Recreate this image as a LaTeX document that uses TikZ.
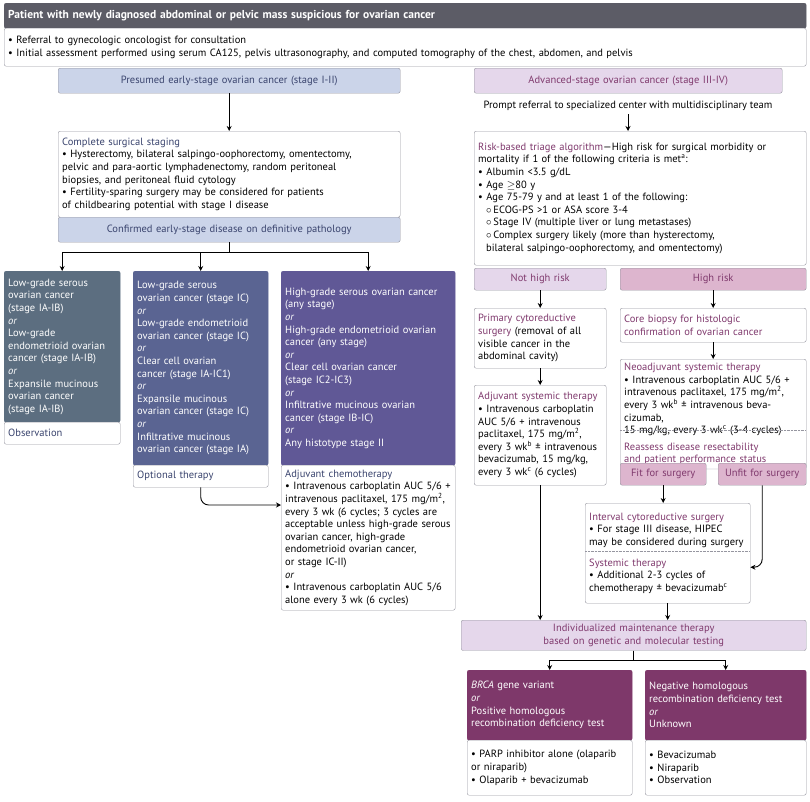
\documentclass[tikz,border=0pt]{standalone}
\usepackage{fontspec}
\setmainfont{PT Sans}
\usetikzlibrary{arrows.meta, positioning, calc}
\definecolor{titleGray}{RGB}{92,92,102}
\definecolor{lineGray}{RGB}{150,150,160}
\definecolor{hdrBlue}{RGB}{203,212,233}
\definecolor{txtBlue}{RGB}{58,68,110}
\definecolor{hdrPurple}{RGB}{229,215,235}
\definecolor{txtPurple}{RGB}{128,58,110}
\definecolor{slateBox}{RGB}{92,110,128}
\definecolor{navyBox}{RGB}{90,100,146}
\definecolor{violetBox}{RGB}{96,88,150}
\definecolor{magentaBox}{RGB}{126,56,106}
\definecolor{pinkTab}{RGB}{221,181,206}
\newcommand{\bodyfont}{\fontsize{10.5}{12.6}\selectfont}
\newcommand{\bul}{\textbullet\ }
\newcommand{\sub}{\hspace*{8pt}$\circ$\,}
\newcommand{\orr}{\textit{or}}

\begin{document}
\begin{tikzpicture}[
    x=1pt, y=-1pt,
    box/.style={draw=lineGray, fill=white, rounded corners=2pt, anchor=north west, align=left, inner sep=4pt, font=\bodyfont},
    dark/.style={box, text=white},
    tab/.style={box, align=center},
    arrow/.style={-{Stealth[length=5pt, width=5pt]}, line width=0.9pt}
]
    \useasboundingbox (0,0) rectangle (810,801);

    % Top
    \node[box, fill=titleGray, draw=titleGray, text=white, font=\fontsize{11.5}{13}\selectfont\bfseries, text width=794pt, minimum height=25pt] (title) at (4,3) {Patient with newly diagnosed abdominal or pelvic mass suspicious for ovarian cancer};
    \node[box, text width=794pt, minimum height=38pt] (intro) at (4,28) {\bul Referral to gynecologic oncologist for consultation\\
      \bul Initial assessment performed using serum CA125, pelvis ultrasonography, and computed tomography of the chest, abdomen, and pelvis};

    % Early stage branch
    \node[tab, fill=hdrBlue, text=txtBlue, text width=334pt, minimum height=25pt] (lhdr) at (58,68) {Presumed early-stage ovarian cancer (stage I-II)};
    \node[box, text width=334pt, minimum height=86pt] (staging) at (58,131) {\textcolor{txtBlue}{Complete surgical staging}\\
      \bul Hysterectomy, bilateral salpingo-oophorectomy, omentectomy,\\
      pelvic and para-aortic lymphadenectomy, random peritoneal\\
      biopsies, and peritoneal fluid cytology\\
      \bul Fertility-sparing surgery may be considered for patients\\
      of childbearing potential with stage I disease};
    \node[tab, fill=hdrBlue, text=txtBlue, text width=334pt, minimum height=25pt] (confirmed) at (58,217) {Confirmed early-stage disease on definitive pathology};

    \node[dark, fill=slateBox, draw=slateBox, text width=108pt, minimum height=151pt] (lowgrade) at (4,271) {Low-grade serous\\ovarian cancer\\(stage IA-IB)\\\orr\\Low-grade\\endometrioid ovarian\\cancer (stage IA-IB)\\\orr\\Expansile mucinous\\ovarian cancer\\(stage IA-IB)};
    \node[box, text=txtBlue, text width=108pt, minimum height=22pt] (observe) at (4,422) {Observation};

    \node[dark, fill=navyBox, draw=navyBox, text width=127pt, minimum height=194pt] (stageic) at (133,271) {Low-grade serous\\ovarian cancer (stage IC)\\\orr\\Low-grade endometrioid\\ovarian cancer (stage IC)\\\orr\\Clear cell ovarian\\cancer (stage IA-IC1)\\\orr\\Expansile mucinous\\ovarian cancer (stage IC)\\\orr\\Infiltrative mucinous\\ovarian cancer (stage IA)};
    \node[box, text=txtBlue, text width=127pt, minimum height=22pt] (optional) at (133,465) {Optional therapy};

    \node[dark, fill=violetBox, draw=violetBox, text width=166pt, minimum height=194pt] (highgrade) at (281,271) {High-grade serous ovarian cancer\\(any stage)\\\orr\\High-grade endometrioid ovarian\\cancer (any stage)\\\orr\\Clear cell ovarian cancer\\(stage IC2-IC3)\\\orr\\Infiltrative mucinous ovarian\\cancer (stage IB-IC)\\\orr\\Any histotype stage II};
    \node[box, text width=166pt, minimum height=145pt] (adjchemo) at (281,465) {\textcolor{txtBlue}{Adjuvant chemotherapy}\\
      \bul Intravenous carboplatin AUC 5/6 +\\intravenous paclitaxel, 175 mg/m\textsuperscript{2},\\every 3 wk (6 cycles; 3 cycles are\\acceptable unless high-grade serous\\ovarian cancer, high-grade\\endometrioid ovarian cancer,\\or stage IC-II)\\\orr\\
      \bul Intravenous carboplatin AUC 5/6\\alone every 3 wk (6 cycles)};

    % Advanced stage branch
    \node[tab, fill=hdrPurple, text=txtPurple, text width=300pt, minimum height=25pt] (rhdr) at (474,68) {Advanced-stage ovarian cancer (stage III-IV)};
    \node[font=\bodyfont] (prompt) at (628,106) {Prompt referral to specialized center with multidisciplinary team};
    \node[box, text width=324pt, minimum height=134pt] (triage) at (474,131) {\textcolor{txtPurple}{Risk-based triage algorithm}---High risk for surgical morbidity or\\mortality if 1 of the following criteria is met\textsuperscript{a}:\\
      \bul Albumin {<}3.5 g/dL\\\bul Age {\ensuremath{\geq}}80 y\\\bul Age 75-79 y and at least 1 of the following:\\
      \sub ECOG-PS {>}1 or ASA score 3-4\\\sub Stage IV (multiple liver or lung metastases)\\\sub Complex surgery likely (more than hysterectomy,\\\hspace*{8pt}bilateral salpingo-oophorectomy, and omentectomy)};

    \node[tab, fill=hdrPurple, text=txtPurple, text width=124pt, minimum height=22pt] (nothigh) at (474,268) {Not high risk};
    \node[tab, fill=pinkTab, text=txtPurple, text width=178pt, minimum height=22pt] (highrisk) at (620,268) {High risk};

    \node[box, text width=124pt, minimum height=60pt] (primary) at (474,308) {\textcolor{txtPurple}{Primary cytoreductive}\\\textcolor{txtPurple}{surgery} (removal of all\\visible cancer in the\\abdominal cavity)};
    \node[box, text width=124pt, minimum height=100pt] (adjsys) at (474,385) {\textcolor{txtPurple}{Adjuvant systemic therapy}\\
      \bul Intravenous carboplatin\\AUC 5/6 + intravenous\\paclitaxel, 175 mg/m\textsuperscript{2},\\every 3 wk\textsuperscript{b} \textpm{} intravenous\\bevacizumab, 15 mg/kg,\\every 3 wk\textsuperscript{c} (6 cycles)};

    \node[box, text width=178pt, minimum height=34pt] (biopsy) at (620,308) {\textcolor{txtPurple}{Core biopsy for histologic}\\\textcolor{txtPurple}{confirmation of ovarian cancer}};
    \node[box, text width=178pt, minimum height=101pt] (neoadj) at (620,359) {\textcolor{txtPurple}{Neoadjuvant systemic therapy}\\
      \bul Intravenous carboplatin AUC 5/6 +\\intravenous paclitaxel, 175 mg/m\textsuperscript{2},\\every 3 wk\textsuperscript{b} \textpm{} intravenous bevacizumab,\\15 mg/kg, every 3 wk\textsuperscript{c} (3-4 cycles)\\[4pt]
      \textcolor{txtPurple}{Reassess disease resectability}\\\textcolor{txtPurple}{and patient performance status}};
    \draw[lineGray, densely dotted] (620,430) -- (806,430);

    \node[tab, fill=pinkTab, text=txtPurple, text width=78pt, minimum height=22pt] (fit) at (620,463) {Fit for surgery};
    \node[tab, fill=pinkTab, text=txtPurple, text width=80pt, minimum height=22pt] (unfit) at (718,463) {Unfit for surgery};

    \node[box, text width=157pt, minimum height=100pt] (interval) at (585,503) {\textcolor{txtPurple}{Interval cytoreductive surgery}\\
      \bul For stage III disease, HIPEC\\may be considered during surgery\\[8pt]
      \textcolor{txtPurple}{Systemic therapy}\\\bul Additional 2-3 cycles of\\chemotherapy \textpm{} bevacizumab\textsuperscript{c}};
    \draw[lineGray, densely dotted] (585,551) -- (750,551);

    \node[tab, fill=hdrPurple, text=txtPurple, text width=337pt, minimum height=23pt] (maint) at (461,620) {Individualized maintenance therapy based on genetic and molecular testing};

    \node[dark, fill=magentaBox, draw=magentaBox, text width=157pt, minimum height=70pt] (brca) at (467,670) {\textit{BRCA} gene variant\\\orr\\Positive homologous\\recombination deficiency test};
    \node[box, text width=157pt, minimum height=55pt] (parp) at (467,740) {\bul PARP inhibitor alone (olaparib\\or niraparib)\\\bul Olaparib + bevacizumab};
    \node[dark, fill=magentaBox, draw=magentaBox, text width=153pt, minimum height=70pt] (neghrd) at (645,670) {Negative homologous\\recombination deficiency test\\\orr\\Unknown};
    \node[box, text width=153pt, minimum height=55pt] (bev) at (645,740) {\bul Bevacizumab\\\bul Niraparib\\\bul Observation};

    % Arrows
    \draw[arrow] (lhdr.south) -- (staging.north);
    \draw[arrow] (confirmed.south) -- ++(0,10) -| (lowgrade.north);
    \draw[arrow] (confirmed.south) -- ++(0,10) -| (stageic.north);
    \draw[arrow] (confirmed.south) -- ++(0,10) -| (highgrade.north);
    \draw[arrow, rounded corners=8pt] (optional.south) |- ($(adjchemo.north west)+(0,40)$);
    \draw[arrow] (prompt) -- (prompt |- triage.north);
    \draw[arrow] (nothigh.south) -- (primary.north);
    \draw[arrow] (primary.south) -- (adjsys.north);
    \draw[arrow] (highrisk.south) -- (biopsy.north);
    \draw[arrow] (biopsy.south) -- (neoadj.north);
    \draw[arrow] (fit.south) -- (fit.south |- interval.north);
    \draw[arrow, rounded corners=8pt] (unfit.south) |- ($(interval.east)+(0,14)$);
    \draw[arrow] (adjsys.south) -- (adjsys.south |- maint.north);
    \draw[arrow] (interval.south) -- (interval.south |- maint.north);
    \draw[arrow] (maint.south) -- ++(0,10) -| (brca.north);
    \draw[arrow] (maint.south) -- ++(0,10) -| (neghrd.north);
\end{tikzpicture}
\end{document}
